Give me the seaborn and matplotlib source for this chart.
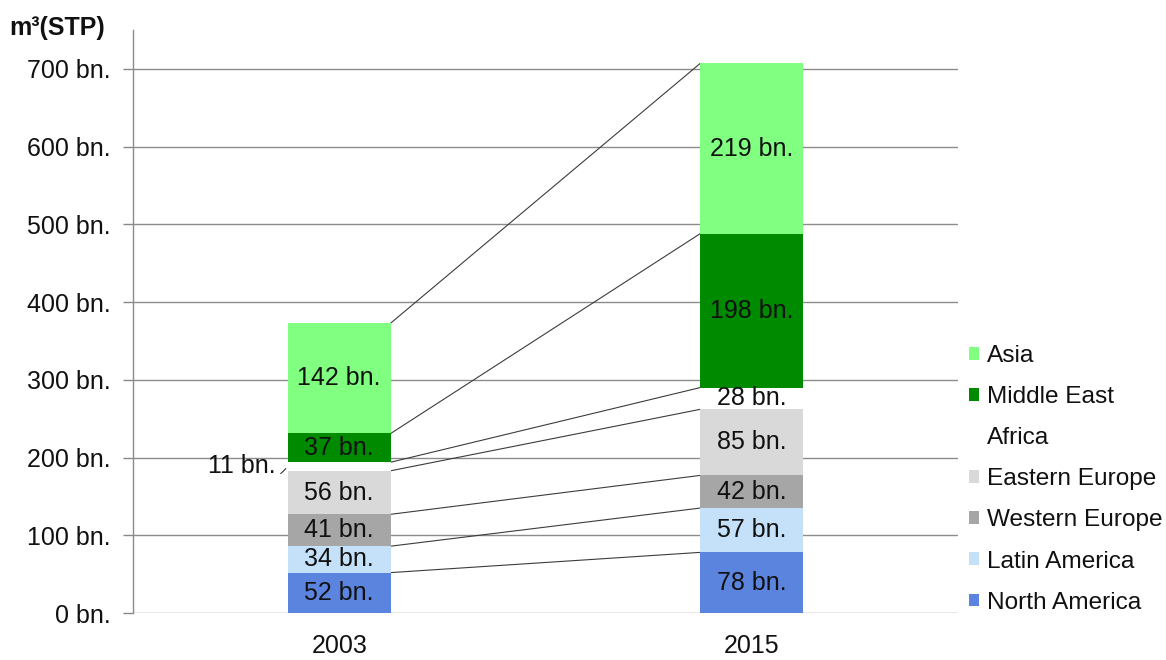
import matplotlib
matplotlib.use("Agg")
import matplotlib.pyplot as plt
from matplotlib.patches import Patch
import numpy as np
import pandas as pd
import seaborn as sns

# Natural gas consumption by region, billion m3 (STP)
years = ["2003", "2015"]
regions = ["North America", "Latin America", "Western Europe", "Eastern Europe",
           "Africa", "Middle East", "Asia"]
north_america = [52, 78]
latin_america = [34, 57]
western_europe = [41, 42]
eastern_europe = [56, 85]
africa = [11, 28]
middle_east = [37, 198]
asia = [142, 219]
colors = ["#5B84DE", "#C5E0F9", "#A6A6A6", "#D9D9D9", "#FFFFFF", "#008A00", "#80FF80"]
y_ticks = [0, 100, 200, 300, 400, 500, 600, 700]

values = np.array([north_america, latin_america, western_europe, eastern_europe,
                   africa, middle_east, asia], dtype=float)
cum = np.cumsum(values, axis=0)

sns.set_theme(style="white")
plt.rcParams["font.family"] = ["Liberation Sans", "DejaVu Sans"]
FS = 18

fig = plt.figure(figsize=(11.66, 6.6), dpi=100)
ax = fig.add_axes([0.114, 0.0712, 0.7076, 0.8833])

# stacked bars: draw cumulative totals from the top layer down
for i in range(len(regions) - 1, -1, -1):
    df = pd.DataFrame({"year": years, "total": cum[i]})
    sns.barplot(data=df, x="year", y="total", color=colors[i], saturation=1,
                width=0.25, errorbar=None, ax=ax, zorder=3, linewidth=0)

half = 0.125
# connector lines between the two stacks
for i in range(len(regions)):
    ax.plot([0 + half, 1 - half], [cum[i, 0], cum[i, 1]], color="#3c3c3c",
            lw=0.8, zorder=2)

# segment labels
for i in range(len(regions)):
    for j in range(len(years)):
        v = values[i, j]
        mid = cum[i, j] - v / 2
        label = f"{int(v)} bn."
        if regions[i] == "Africa" and j == 0:
            ax.annotate(label, xy=(j - half, mid), xytext=(j - half - 0.03, mid),
                        ha="right", va="center", fontsize=FS, color="#111111",
                        arrowprops=dict(arrowstyle="-", color="#333333", lw=0.8,
                                        connectionstyle="arc3,rad=0.6"), zorder=5)
        else:
            ax.text(j, mid, label, ha="center", va="center", fontsize=FS,
                    color="#111111", zorder=5)

ax.set_xlim(-0.5, 1.5)
ax.set_ylim(0, 750)
ax.set_yticks(y_ticks)
ax.set_yticklabels([f"{t} bn." for t in y_ticks], fontsize=FS, color="#111111")
ax.set_xticklabels(years, fontsize=FS, color="#111111")
ax.set_xlabel("")
ax.set_ylabel("")
ax.tick_params(axis="y", length=7, width=1, color="#888888", pad=9, left=True)
ax.tick_params(axis="x", length=0, pad=15)
ax.yaxis.grid(True, color="#8c8c8c", lw=1)
ax.set_axisbelow(True)
for s in ["top", "right", "bottom"]:
    ax.spines[s].set_visible(False)
ax.spines["left"].set_color("#8c8c8c")
ax.spines["left"].set_linewidth(1)

fig.text(0.008, 0.957, "m³(STP)", fontsize=FS, fontweight="bold", color="#111111",
         ha="left", va="center")

handles = [Patch(facecolor=colors[i], edgecolor="none", label=regions[i])
           for i in range(len(regions) - 1, -1, -1)]
fig.legend(handles=handles, loc="upper left", bbox_to_anchor=(0.831, 0.477),
           frameon=False, fontsize=17.6, handlelength=0.42, handleheight=0.42,
           handletextpad=0.3, labelspacing=0.78, borderpad=0, borderaxespad=0,
           labelcolor="#111111")

fig.savefig("out.png", dpi=100)
